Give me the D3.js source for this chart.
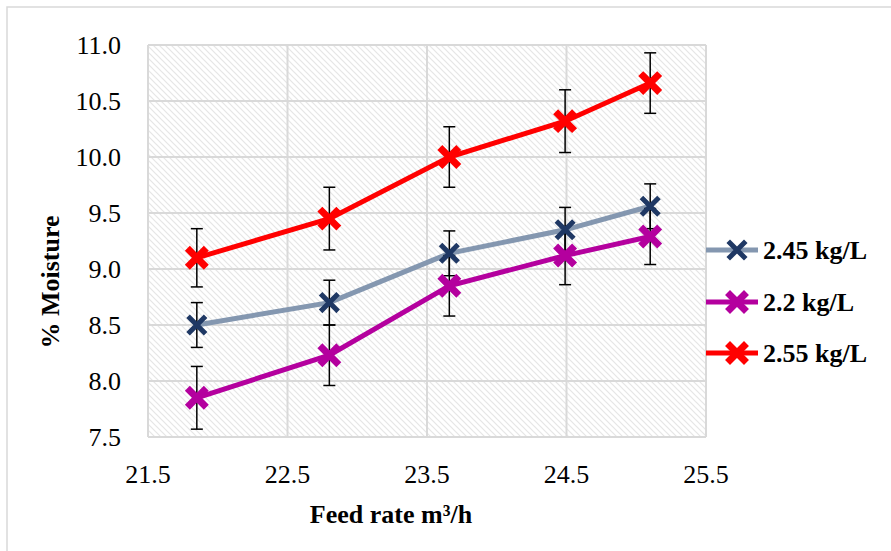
<!DOCTYPE html>
<html>
<head>
<meta charset="utf-8">
<script src="https://cdn.jsdelivr.net/npm/d3@7"></script>
<style>
  body { margin: 0; }
  svg text { font-family: 'Times New Roman', 'Liberation Serif', serif; }
</style>
</head>
<body>
<script>
// feed rate (x) for each point
const feedRates = [21.85, 22.8, 23.66, 24.49, 25.1];

const seriesNames = ['2.45 kg/L', '2.2 kg/L', '2.55 kg/L'];
const moisture245 = [8.5, 8.7, 9.14, 9.35, 9.56];
const moisture22 = [7.85, 8.23, 8.85, 9.12, 9.29];
const moisture255 = [9.1, 9.45, 10.0, 10.32, 10.66];

const err245 = [0.2, 0.2, 0.2, 0.2, 0.2];
const err22 = [0.28, 0.27, 0.27, 0.26, 0.25];
const err255 = [0.26, 0.28, 0.27, 0.28, 0.27];

const xTicks = [21.5, 22.5, 23.5, 24.5, 25.5];
const yTicks = [7.5, 8.0, 8.5, 9.0, 9.5, 10.0, 10.5, 11.0];

const series = [
  { name: seriesNames[0], values: moisture245, errs: err245, line: '#8497b0', marker: '#1f3864', mw: 5 },
  { name: seriesNames[1], values: moisture22, errs: err22, line: '#b4009e', marker: '#b4009e', mw: 7 },
  { name: seriesNames[2], values: moisture255, errs: err255, line: '#ff0000', marker: '#ff0000', mw: 7 },
];

const width = 891, height = 551;
const plot = { left: 148, right: 706, top: 45, bottom: 437 };

const svg = d3.select('body').append('svg')
  .attr('width', width)
  .attr('height', height)
  .style('display', 'block')
  .style('font-family', 'Times New Roman');

// text helper: serif font set inline on every label
function label(sel, size, bold) {
  return sel
    .style('font', `${bold ? 'bold ' : ''}${size}px "Times New Roman", "Liberation Serif", serif`)
    .attr('fill', '#000');
}

// hatch pattern for the plot area
const defs = svg.append('defs');
const pat = defs.append('pattern')
  .attr('id', 'hatch')
  .attr('patternUnits', 'userSpaceOnUse')
  .attr('width', 6)
  .attr('height', 6);
pat.append('rect').attr('width', 6).attr('height', 6).attr('fill', '#fff');
pat.append('path')
  .attr('d', 'M-1,-1 L7,7 M-4,2 L4,10 M2,-4 L10,4')
  .attr('stroke', '#e6e6e6')
  .attr('stroke-width', 1.2);

// outer chart border
svg.append('rect')
  .attr('x', 7).attr('y', 7)
  .attr('width', width).attr('height', height)
  .attr('fill', 'none')
  .attr('stroke', '#d9d9d9')
  .attr('stroke-width', 1.5);

const x = d3.scaleLinear().domain([21.5, 25.5]).range([plot.left, plot.right]);
const y = d3.scaleLinear().domain([7.5, 11]).range([plot.bottom, plot.top]);

svg.append('rect')
  .attr('x', plot.left).attr('y', plot.top)
  .attr('width', plot.right - plot.left)
  .attr('height', plot.bottom - plot.top)
  .attr('fill', 'url(#hatch)');

// gridlines
svg.append('g').selectAll('line').data(xTicks).join('line')
  .attr('x1', d => x(d)).attr('x2', d => x(d))
  .attr('y1', plot.top).attr('y2', plot.bottom)
  .attr('stroke', '#d9d9d9').attr('stroke-width', 2);

svg.append('g').selectAll('line').data(yTicks).join('line')
  .attr('x1', plot.left).attr('x2', plot.right)
  .attr('y1', d => y(d)).attr('y2', d => y(d))
  .attr('stroke', '#d9d9d9').attr('stroke-width', 2);

// tick labels
const fmt = d3.format('.1f');
label(svg.append('g').selectAll('text')
  .data(yTicks)
  .join('text')
  .attr('x', 121)
  .attr('y', d => y(d) + 9)
  .attr('text-anchor', 'end'), 26, false)
  .text(fmt);

label(svg.append('g').selectAll('text')
  .data(xTicks)
  .join('text')
  .attr('x', d => x(d))
  .attr('y', 483)
  .attr('text-anchor', 'middle'), 26, false)
  .text(fmt);

// axis titles
label(svg.append('text')
  .attr('x', 391)
  .attr('y', 523)
  .attr('text-anchor', 'middle'), 26, true)
  .text('Feed rate m³/h');

label(svg.append('text')
  .attr('transform', 'translate(59, 282) rotate(-90)')
  .attr('text-anchor', 'middle'), 26, true)
  .text('% Moisture');

function drawX(g, cx, cy, color, w) {
  const s = 7;
  g.append('path')
    .attr('d', `M${cx - s},${cy - s}L${cx + s},${cy + s}M${cx - s},${cy + s}L${cx + s},${cy - s}`)
    .attr('stroke', color)
    .attr('stroke-width', w)
    .attr('stroke-linecap', 'square')
    .attr('fill', 'none');
}

const line = d3.line().x(d => x(d[0])).y(d => y(d[1]));

// lines first, then error bars and markers
series.forEach(s => {
  const pts = feedRates.map((f, i) => [f, s.values[i]]);
  svg.append('path')
    .datum(pts)
    .attr('d', line)
    .attr('fill', 'none')
    .attr('stroke', s.line)
    .attr('stroke-width', 5);
});

series.forEach(s => {
  const g = svg.append('g');
  feedRates.forEach((f, i) => {
    const cx = x(f);
    const top = y(s.values[i] + s.errs[i]);
    const bot = y(s.values[i] - s.errs[i]);
    g.append('line').attr('x1', cx).attr('x2', cx).attr('y1', top).attr('y2', bot)
      .attr('stroke', '#000').attr('stroke-width', 1.5);
    [top, bot].forEach(v => {
      g.append('line').attr('x1', cx - 6).attr('x2', cx + 6).attr('y1', v).attr('y2', v)
        .attr('stroke', '#000').attr('stroke-width', 1.5);
    });
  });
});

series.forEach(s => {
  const g = svg.append('g');
  feedRates.forEach((f, i) => drawX(g, x(f), y(s.values[i]), s.marker, s.mw));
});

// legend
const legendY = [250, 302, 353];
series.forEach((s, i) => {
  const ly = legendY[i];
  const g = svg.append('g');
  g.append('line')
    .attr('x1', 706).attr('x2', 758).attr('y1', ly).attr('y2', ly)
    .attr('stroke', s.line).attr('stroke-width', 5);
  drawX(g, 737, ly, s.marker, s.mw);
  label(g.append('text')
    .attr('x', 763).attr('y', ly + 9), 26, true)
    .text(s.name);
});
</script>
</body>
</html>
